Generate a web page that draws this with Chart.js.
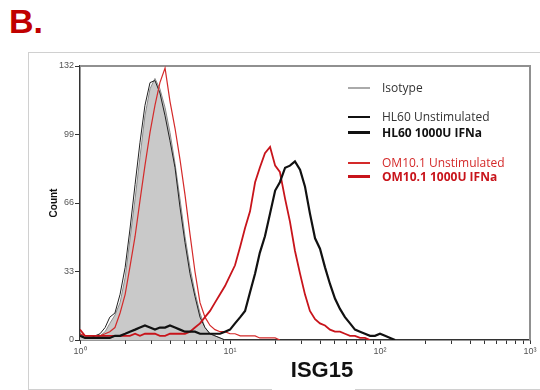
<!DOCTYPE html>
<html>
<head>
<meta charset="utf-8">
<script src="https://cdn.jsdelivr.net/npm/chart.js@4.4.1/dist/chart.umd.min.js"></script>
<style>
  body { margin: 0; background: #fff; }
  #wrap { position: relative; width: 540px; height: 390px; overflow: hidden; }
  #panel { position: absolute; left: 9px; top: 2px; font: bold 34px "Liberation Sans", Arial, sans-serif; color: #c00000; }
  #frame { position: absolute; left: 28px; top: 52px; width: 540px; height: 336px; border: 1px solid #d0d0d0; }
  #gap { position: absolute; left: 272px; top: 385px; width: 83px; height: 5px; background: #fff; }
  #xtitle { position: absolute; left: 260px; width: 124px; top: 357px; text-align: center;
    font: bold 22px "Liberation Sans", Arial, sans-serif; color: #111; }
  canvas { position: absolute; left: 0; top: 0; }
  .leg { position: absolute; left: 348px; font: 12px "Open Sans", sans-serif; line-height: 14px; white-space: nowrap; }
  .leg i { display: inline-block; width: 22px; vertical-align: middle; margin-right: 12px; position: relative; top: -1px; }
</style>
</head>
<body>
<div id="wrap">
  <div id="panel">B.</div>
  <div id="frame"></div>
  <div id="gap"></div>
  <canvas id="chart" width="540" height="390"></canvas>
  <div id="xtitle">ISG15</div>
  <div class="leg" style="top:81px; color:#333;"><i style="border-top:2px solid #aaa;"></i>Isotype</div>
  <div class="leg" style="top:110px; color:#333;"><i style="border-top:2px solid #111;"></i>HL60 Unstimulated</div>
  <div class="leg" style="top:126px; color:#111; font-weight:bold;"><i style="border-top:3px solid #111;"></i>HL60 1000U IFNa</div>
  <div class="leg" style="top:156px; color:#d42a2a;"><i style="border-top:2px solid #d42a2a;"></i>OM10.1 Unstimulated</div>
  <div class="leg" style="top:170px; color:#c8141b; font-weight:bold;"><i style="border-top:3px solid #c8141b;"></i>OM10.1 1000U IFNa</div>
</div>
<script>
// histogram channel positions (ISG15 intensity, log scale)
const channels = [1.00, 1.08, 1.17, 1.26, 1.36, 1.47, 1.58, 1.71, 1.85, 2.00,
  2.15, 2.33, 2.51, 2.71, 2.93, 3.16, 3.41, 3.69, 3.98, 4.30,
  4.64, 5.01, 5.41, 5.84, 6.31, 6.81, 7.36, 7.94, 8.58, 9.26,
  10.0, 10.8, 11.7, 12.6, 13.6, 14.7, 15.8, 17.1, 18.5, 20.0,
  21.5, 23.3, 25.1, 27.1, 29.3, 31.6, 34.1, 36.9, 39.8, 43.0,
  46.4, 50.1, 54.1, 58.4, 63.1, 68.1, 73.6, 79.4, 85.8, 92.6,
  100, 108, 117, 126, 136, 147, 158];

// counts per channel
const isotype = [2, 1, 1, 1, 2, 4, 8, 12, 18, 30, 48, 68, 88, 108, 121, 126, 121, 112, 100, 85,
  68, 50, 35, 23, 13, 6, 3, 2, 1, 0];
const hl60Unstim = [3, 1, 1, 2, 3, 6, 11, 13, 22, 35, 53, 75, 95, 113, 124, 125, 119, 108, 96, 83,
  64, 47, 32, 21, 11, 6, 3, 2, 1, 0];
const hl60Ifn = [2, 1, 1, 1, 1, 1, 1, 2, 2, 3, 4, 5, 6, 7, 6, 5, 6, 6, 7, 6,
  5, 4, 4, 4, 3, 3, 3, 3, 3, 4, 5, 8, 11, 14, 23, 32, 42, 50, 61, 72,
  76, 83, 84, 86, 82, 74, 61, 49, 44, 35, 27, 20, 15, 11, 8, 5, 4, 3, 2, 2,
  3, 2, 1, 0];
const om10Unstim = [3, 2, 2, 2, 2, 3, 4, 6, 13, 22, 35, 50, 67, 84, 100, 113, 124, 131, 115, 102,
  87, 70, 51, 33, 18, 11, 7, 5, 4, 4, 3, 3, 2, 2, 2, 2, 1, 1, 1, 1, 0];
const om10Ifn = [5, 2, 2, 2, 2, 2, 2, 2, 2, 2, 2, 3, 2, 3, 3, 3, 2, 2, 3, 3,
  3, 3, 4, 6, 8, 11, 14, 18, 22, 26, 31, 36, 45, 54, 62, 76, 83, 90, 93, 84,
  81, 68, 57, 43, 32, 22, 14, 10, 8, 7, 5, 4, 4, 3, 2, 2, 1, 1, 0];

// axis ticks
const xTicks = [1, 2, 3, 4, 5, 6, 7, 8, 9, 10, 20, 30, 40, 50, 60, 70, 80, 90,
  100, 200, 300, 400, 500, 600, 700, 800, 900, 1000];
const xTickLabels = { 1: '10\u2070', 10: '10\u00b9', 100: '10\u00b2', 1000: '10\u00b3' };
const yTicks = [0, 33, 66, 99, 132];

// grey box on top and right of the plot
const plotBox = {
  id: 'plotBox',
  beforeDatasetsDraw(chart) {
    const a = chart.chartArea;
    const ctx = chart.ctx;
    ctx.save();
    ctx.strokeStyle = '#909090';
    ctx.lineWidth = 2;
    ctx.beginPath();
    ctx.moveTo(a.left, a.top);
    ctx.lineTo(a.right, a.top);
    ctx.lineTo(a.right, a.bottom);
    ctx.stroke();
    ctx.restore();
  }
};

function line(data, color, width, order) {
  return { data: data, borderColor: color, borderWidth: width, pointRadius: 0, tension: 0, fill: false, order: order };
}

new Chart(document.getElementById('chart'), {
  type: 'line',
  data: {
    labels: channels,
    datasets: [
      { data: isotype, borderColor: '#8c8c8c', borderWidth: 1, backgroundColor: '#c9c9c9',
        fill: 'origin', pointRadius: 0, tension: 0, order: 10 },
      line(hl60Unstim, '#222', 1, 4),
      line(om10Unstim, '#d42a2a', 1.2, 3),
      line(om10Ifn, '#c8141b', 1.8, 2),
      line(hl60Ifn, '#111', 2.2, 1)
    ]
  },
  options: {
    responsive: false,
    devicePixelRatio: 1,
    animation: false,
    layout: { padding: { left: 44, top: 66, right: 10, bottom: 0 } },
    plugins: { legend: { display: false }, tooltip: { enabled: false } },
    scales: {
      x: {
        type: 'logarithmic',
        min: 1,
        max: 1000,
        afterBuildTicks: s => { s.ticks = xTicks.map(v => ({ value: v })); },
        afterFit: s => { s.height = 50; },
        grid: { drawOnChartArea: false, drawTicks: true, tickLength: 4, color: '#333' },
        border: { display: true, color: '#333', width: 1.5 },
        ticks: {
          autoSkip: false, maxRotation: 0, padding: 2,
          font: { family: 'Liberation Sans', size: 9 }, color: '#555',
          callback: v => xTickLabels[v] || ''
        }
      },
      y: {
        min: 0,
        max: 132,
        afterBuildTicks: s => { s.ticks = yTicks.map(v => ({ value: v })); },
        afterFit: s => { s.width = 36; },
        grid: { drawOnChartArea: false, drawTicks: true, tickLength: 5, color: '#333' },
        border: { display: true, color: '#333', width: 1.5 },
        ticks: { padding: 1, font: { family: 'Liberation Sans', size: 9 }, color: '#555' },
        title: { display: true, text: 'Count', color: '#111',
          font: { family: 'Liberation Sans', size: 10, weight: 'bold' }, padding: { top: 4, bottom: 0 } }
      }
    }
  },
  plugins: [plotBox]
});
</script>
</body>
</html>
